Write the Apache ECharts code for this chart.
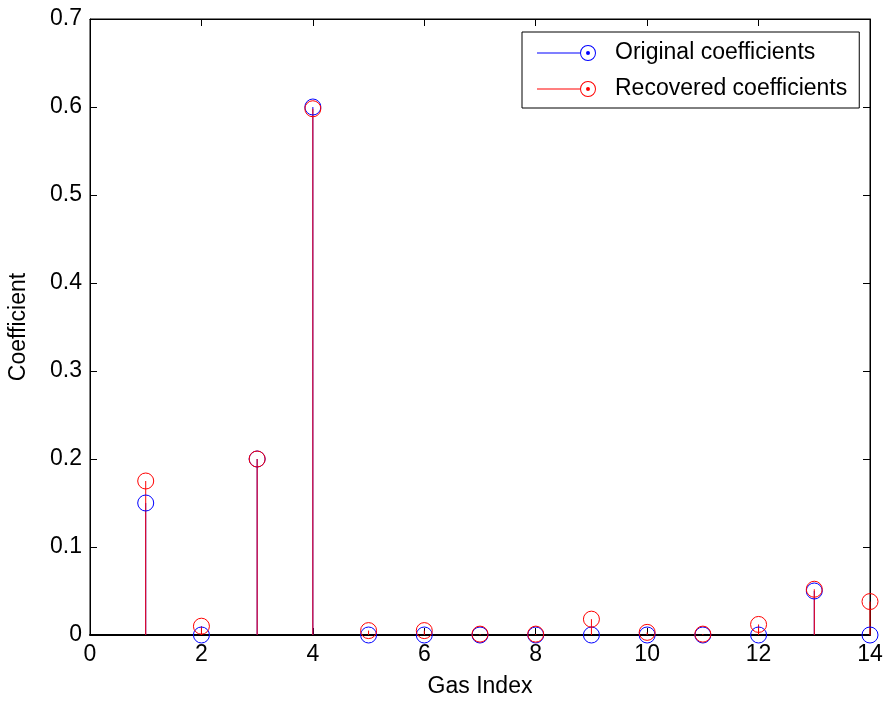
<!DOCTYPE html>
<html>
<head>
<meta charset="utf-8">
<script src="https://cdn.jsdelivr.net/npm/echarts@6/dist/echarts.min.js"></script>
<style>html,body{margin:0;padding:0;background:#fff;}#c{width:884px;height:701px;}</style>
</head>
<body>
<div id="c"></div>
<script>
var gasIndex = [1,2,3,4,5,6,7,8,9,10,11,12,13,14];
var originalCoef = [0.15,0,0.2,0.6,0,0,0,0,0,0,0,0,0.05,0];
var recoveredCoef = [0.175,0.01,0.2,0.598,0.005,0.005,0.001,0.001,0.018,0.003,0.001,0.012,0.052,0.038];
var xTicks = [0,2,4,6,8,10,12,14];
var yTicks = [0,0.1,0.2,0.3,0.4,0.5,0.6,0.7];

var FONT = '"Liberation Sans", Arial, sans-serif';
var FS = 23;
function pairs(vals){ return gasIndex.map(function(x,i){ return [x, vals[i]]; }); }
function stemSeries(name, vals, color){
  return {
    type: 'custom', name: name, data: pairs(vals), z: 2, silent: true,
    renderItem: function(params, api){
      var p0 = api.coord([api.value(0), 0]);
      var p1 = api.coord([api.value(0), api.value(1)]);
      return {type:'line', shape:{x1:p0[0], y1:p0[1], x2:p1[0], y2:p1[1]}, style:{stroke:color, lineWidth:1}};
    }
  };
}
function markerSeries(name, vals, color){
  return {
    type: 'scatter', name: name, data: pairs(vals), z: 3, silent: true,
    symbol: 'circle', symbolSize: 16,
    itemStyle: {color: 'rgba(0,0,0,0)', borderColor: color, borderWidth: 1, opacity: 1}
  };
}
var iconPath = 'path://M0 7.5 L43 7.5 L43 8.5 L0 8.5 Z M51 0 A8 8 0 1 1 51 16 A8 8 0 1 1 51 0 Z M51 1 A7 7 0 1 0 51 15 A7 7 0 1 0 51 1 Z M51 6 A2 2 0 1 1 51 10 A2 2 0 1 1 51 6 Z';

var chart = echarts.init(document.getElementById('c'), null, {renderer:'canvas'});
var axisBase = {
  type: 'value', splitLine: {show:false},
  axisLine: {show:true, onZero:false, lineStyle:{color:'#000', width:1}},
  axisTick: {show:true, inside:true, length:7, lineStyle:{color:'#000'}}
};
chart.setOption({
  animation: false,
  backgroundColor: '#fff',
  textStyle: {fontFamily: FONT},
  grid: {left: 90, right: 14, top: 19, bottom: 66, containLabel: false, outerBoundsMode: 'none',
    show: true, borderColor: '#000', borderWidth: 1, backgroundColor: 'transparent'},
  legend: {
    show: true, orient: 'vertical', left: 522, top: 32,
    backgroundColor: '#fff', borderColor: '#000', borderWidth: 1,
    padding: [9, 12, 7, 15], itemGap: 12, itemWidth: 59, itemHeight: 16,
    selectedMode: false,
    textStyle: {fontFamily: FONT, fontSize: FS, lineHeight: 24, color: '#000', padding: [0,0,0,14]},
    data: [
      {name: 'Original coefficients', icon: iconPath, itemStyle: {color: '#0000ff'}},
      {name: 'Recovered coefficients', icon: iconPath, itemStyle: {color: '#ff0000'}}
    ]
  },
  xAxis: [
    Object.assign({}, axisBase, {
      min: 0, max: 14, interval: 2, position: 'bottom',
      axisLine: {show:true, onZero:false, lineStyle:{color:'#000', width:2}},
      name: 'Gas Index', nameLocation: 'middle', nameGap: 40,
      nameTextStyle: {fontFamily: FONT, fontSize: FS, color: '#000'},
      axisLabel: {fontFamily: FONT, fontSize: FS, color: '#000', margin: 8,
        formatter: function(v){ return xTicks.indexOf(v) >= 0 ? String(v) : ''; }}
    }),
    Object.assign({}, axisBase, {min: 0, max: 14, interval: 2, position: 'top', axisLabel: {show:false}})
  ],
  yAxis: [
    Object.assign({}, axisBase, {
      min: 0, max: 0.7, interval: 0.1, position: 'left',
      name: 'Coefficient', nameLocation: 'middle', nameGap: 60, nameRotate: 90,
      nameTextStyle: {fontFamily: FONT, fontSize: FS, color: '#000'},
      axisLabel: {fontFamily: FONT, fontSize: FS, color: '#000', margin: 8,
        formatter: function(v){ var r = Math.round(v*10)/10; return r === 0 ? '0' : r.toFixed(1); }}
    }),
    Object.assign({}, axisBase, {min: 0, max: 0.7, interval: 0.1, position: 'right', axisLabel: {show:false}})
  ],
  series: [
    stemSeries('Original coefficients', originalCoef, '#0000ff'),
    markerSeries('Original coefficients', originalCoef, '#0000ff'),
    stemSeries('Recovered coefficients', recoveredCoef, '#ff0000'),
    markerSeries('Recovered coefficients', recoveredCoef, '#ff0000')
  ]
});
</script>
</body>
</html>
